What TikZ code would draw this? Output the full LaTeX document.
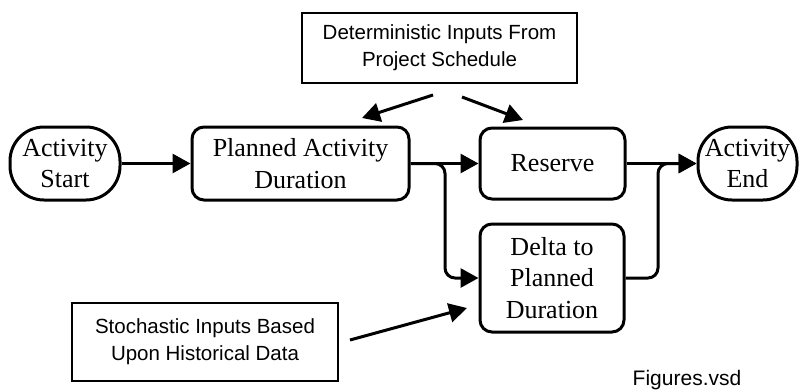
\documentclass[tikz,border=0pt]{standalone}
\usepackage{fontspec}
\setmainfont{Liberation Serif}
\setsansfont{Liberation Sans}
\usetikzlibrary{arrows.meta}
\tikzset{
  serifbox/.style={draw, line width=3pt, rounded corners=12pt, align=center, inner sep=0pt,
    font=\fontsize{26}{31.5}\selectfont},
  stadium/.style={serifbox, rounded corners=34pt},
  sansbox/.style={draw, line width=1.8pt, align=center, inner sep=0pt,
    font=\sffamily\fontsize{20.5}{27}\selectfont},
  conn/.style={line width=3pt, -{Triangle[length=18pt,width=19pt]}},
  branch/.style={conn, rounded corners=10pt}
}
\begin{document}
\begin{tikzpicture}[x=1pt,y=-1pt]
\useasboundingbox (0,0) rectangle (799,391);
\node[stadium, minimum width=110pt, minimum height=73pt] (start) at (65,163.5) {Activity\\Start};
\node[serifbox, minimum width=217pt, minimum height=73pt] (plan) at (300.5,163.5) {Planned Activity\\Duration};
\node[serifbox, minimum width=145pt, minimum height=71pt] (reserve) at (552.5,163.5) {Reserve};
\node[serifbox, minimum width=144pt, minimum height=108pt] (delta) at (552,278) {Delta to\\Planned\\Duration};
\node[stadium, minimum width=99pt, minimum height=73pt] (end) at (747.5,163.5) {Activity\\End};
\node[sansbox, minimum width=275pt, minimum height=70pt] (det) at (439.5,48) {Deterministic Inputs From\\Project Schedule};
\node[sansbox, minimum width=266pt, minimum height=78pt] (sto) at (205,342) {Stochastic Inputs Based\\Upon Historical Data};
\node[font=\sffamily\fontsize{21}{25}\selectfont, inner sep=0pt] (fig) at (687,380) {Figures.vsd};

\coordinate (b1) at (445,163.5);
\coordinate (j1) at (658,163.5);
\coordinate (d1) at (433,95);
\coordinate (t1) at (362,118);
\coordinate (d2) at (462,97);
\coordinate (t2) at (523,120);
\coordinate (s1) at (350,340);
\coordinate (t3) at (467,308);

\draw[conn] (start.east) -- (plan.west);
\draw[conn] (plan.east) -- (reserve.west);
\draw[branch] (plan.east) -- (b1) |- (delta.west);
\draw[conn] (reserve.east) -- (end.west);
\draw[branch] (delta.east) -| (j1) -- (end.west);
\draw[conn] (d1) -- (t1);
\draw[conn] (d2) -- (t2);
\draw[conn] (s1) -- (t3);
\end{tikzpicture}
\end{document}
